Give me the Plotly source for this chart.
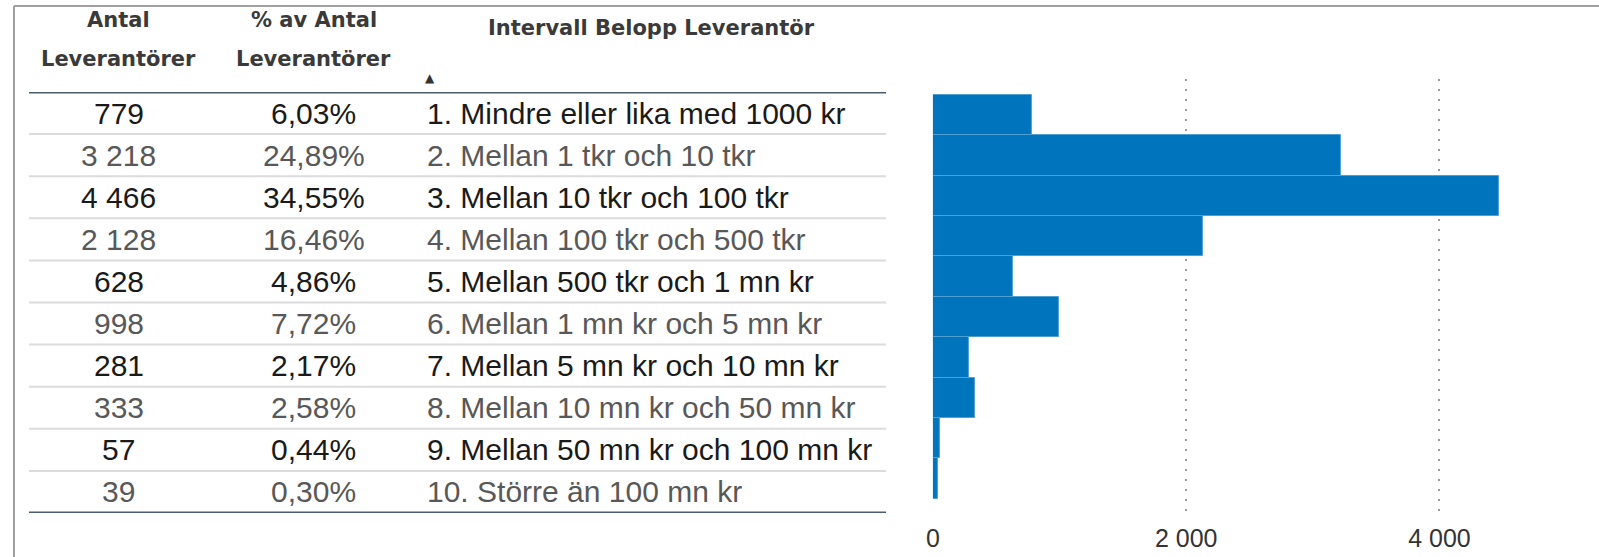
import plotly.graph_objects as go

# ---------------- data ----------------
categories = [
    "1. Mindre eller lika med 1000 kr",
    "2. Mellan 1 tkr och 10 tkr",
    "3. Mellan 10 tkr och 100 tkr",
    "4. Mellan 100 tkr och 500 tkr",
    "5. Mellan 500 tkr och 1 mn kr",
    "6. Mellan 1 mn kr och 5 mn kr",
    "7. Mellan 5 mn kr och 10 mn kr",
    "8. Mellan 10 mn kr och 50 mn kr",
    "9. Mellan 50 mn kr och 100 mn kr",
    "10. Större än 100 mn kr",
]
antal = [779, 3218, 4466, 2128, 628, 998, 281, 333, 57, 39]
andel_pct = [6.03, 24.89, 34.55, 16.46, 4.86, 7.72, 2.17, 2.58, 0.44, 0.30]
header_col1 = ["Antal", "Leverantörer"]
header_col2 = ["% av Antal", "Leverantörer"]
header_col3 = "Intervall Belopp Leverantör"
x_tickvals = [0, 2000, 4000]
x_ticktext = ["0", "2 000", "4 000"]

# ---------------- layout constants ----------------
W, H = 1599, 557


def py(p):
    return 1 - p / H


def fmt_int(v):
    return f"{v:,}".replace(",", " ")


def fmt_pct(v):
    return f"{v:.2f}%".replace(".", ",")


BAR_COLOR = "#0075BD"
HEAD_FONT = dict(family="DejaVu Sans", size=21, color="#3a3a3a")
ROW_FONT = "Liberation Sans, Arial, sans-serif"
DARK_LINE = "#4b5d6e"
ROW_LINE = "#dcdcdc"

fig = go.Figure()

# bar chart
fig.add_trace(go.Bar(
    x=antal, y=categories, orientation="h",
    marker=dict(color=BAR_COLOR, line=dict(color="#4f9fd2", width=1)),
    xaxis="x", yaxis="y", hoverinfo="x+y", showlegend=False,
))

# invisible trace to host the table axes
fig.add_trace(go.Scatter(
    x=[400] * len(categories), y=categories, mode="markers",
    marker=dict(opacity=0), xaxis="x2", yaxis="y2",
    hoverinfo="skip", showlegend=False,
))

annotations = []
shapes = []

# table cells
col1_x, col2_x, col3_x = 112, 308, 420
for i, cat in enumerate(categories):
    color = "#1a1a1a" if i % 2 == 0 else "#585858"
    f = dict(family=ROW_FONT, size=30, color=color)
    annotations.append(dict(x=col1_x, y=cat, xref="x2", yref="y2", text=fmt_int(antal[i]),
                            showarrow=False, xanchor="center", yanchor="middle", font=f))
    annotations.append(dict(x=col2_x, y=cat, xref="x2", yref="y2", text=fmt_pct(andel_pct[i]),
                            showarrow=False, xanchor="center", yanchor="middle", font=f))
    annotations.append(dict(x=col3_x, y=cat, xref="x2", yref="y2", text=cat,
                            showarrow=False, xanchor="left", yanchor="middle", font=f))

# row separators
for k in range(len(categories) - 1):
    shapes.append(dict(type="line", xref="x2", yref="y2", x0=22, x1=883,
                       y0=k + 0.5, y1=k + 0.5, line=dict(color=ROW_LINE, width=2)))
# header & bottom rules
for yv in (-0.5, len(categories) - 0.5):
    shapes.append(dict(type="line", xref="x2", yref="y2", x0=22, x1=883,
                       y0=yv, y1=yv, line=dict(color=DARK_LINE, width=3)))

# headers
for txt, yp in zip(header_col1, (20, 59)):
    annotations.append(dict(x=col1_x, y=py(yp), xref="x2", yref="paper", text=f"<b>{txt}</b>",
                            showarrow=False, xanchor="center", yanchor="middle", font=HEAD_FONT))
for txt, yp in zip(header_col2, (20, 59)):
    annotations.append(dict(x=col2_x, y=py(yp), xref="x2", yref="paper", text=f"<b>{txt}</b>",
                            showarrow=False, xanchor="center", yanchor="middle", font=HEAD_FONT))
annotations.append(dict(x=647, y=py(28), xref="x2", yref="paper", text=f"<b>{header_col3}</b>",
                        showarrow=False, xanchor="center", yanchor="middle", font=HEAD_FONT))
annotations.append(dict(x=425, y=py(78), xref="x2", yref="paper", text="▲",
                        showarrow=False, xanchor="center", yanchor="middle",
                        font=dict(family="DejaVu Sans", size=12, color="#333333")))

# outer frame (top and left)
shapes.append(dict(type="line", xref="paper", yref="paper", x0=7 / W, x1=1, y0=py(6), y1=py(6),
                   line=dict(color="#a0a0a0", width=2)))
shapes.append(dict(type="line", xref="paper", yref="paper", x0=7 / W, x1=7 / W, y0=0, y1=py(6),
                   line=dict(color="#a0a0a0", width=2)))

fig.update_layout(
    width=W, height=H, autosize=False,
    margin=dict(l=0, r=0, t=0, b=0, pad=0),
    paper_bgcolor="white", plot_bgcolor="white",
    separators=", ",
    bargap=0,
    xaxis=dict(domain=[930 / W, 1566 / W], range=[0, 5000], tickvals=x_tickvals, ticktext=x_ticktext,
               showgrid=True, gridcolor="#9a9a9a", gridwidth=2, griddash="2px,8px",
               zeroline=False, showline=False, ticks="",
               ticklabelstandoff=6,
               tickfont=dict(family=ROW_FONT, size=25, color="#333333")),
    yaxis=dict(domain=[py(515), py(79)], type="category", categoryorder="array",
               categoryarray=categories, range=[9.9, -0.89], visible=False, anchor="x"),
    xaxis2=dict(domain=[22 / W, 883 / W], range=[22, 883], visible=False, anchor="y2"),
    yaxis2=dict(domain=[py(513), py(92)], type="category", categoryorder="array",
                categoryarray=categories, range=[9.5, -0.5], visible=False, anchor="x2"),
    annotations=annotations,
    shapes=shapes,
)

fig.write_html(
    "out.html",
    config={"displayModeBar": False},
    post_script="document.body.style.margin='0';document.body.style.overflow='hidden';",
)
